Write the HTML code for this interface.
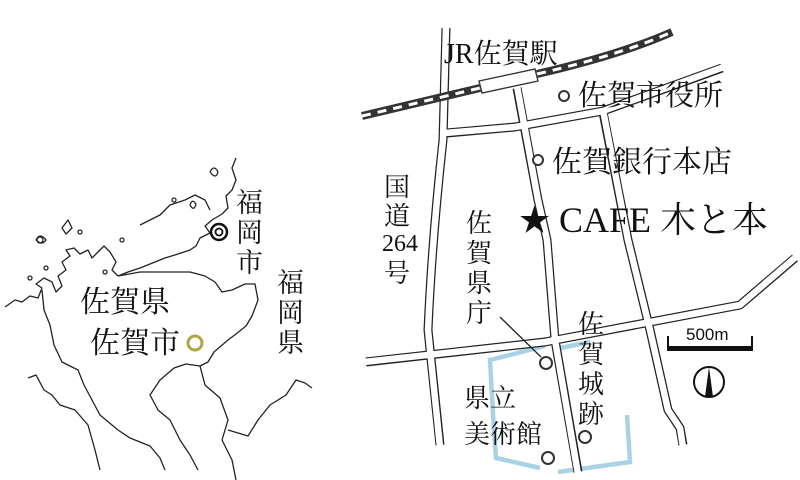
<!DOCTYPE html>
<html><head><meta charset="utf-8"><style>
html,body{margin:0;padding:0;background:#fff;}
svg{display:block;}
text{font-family:"Liberation Serif","Noto Serif CJK SC","Noto Sans CJK JP",serif;fill:#111;}
.s{font-family:"Liberation Sans","Noto Sans CJK JP",sans-serif;}
</style></head><body>
<svg width="800" height="480" viewBox="0 0 800 480" xmlns="http://www.w3.org/2000/svg">
<rect width="800" height="480" fill="#fff"/>
<!-- LEFT MAP -->
<g fill="none" stroke="#222" stroke-width="1.3" stroke-linejoin="round">
<path d="M5,307 L15,300 L22,302 L30,296 L38,298 L42,288 L36,284 L44,278 L52,282 L56,292 L62,286 L58,276 L66,270 L62,262 L70,256 L66,250 L74,248 L80,254 L88,250 L92,258 L98,252 L104,246 L110,252 L116,262 L112,270 L118,276"/>
<path d="M118,276 L128,272 L140,268 L155,262 L165,258 L178,254 L190,250 L196,246 L200,238 L210,233 L205,226 L212,220 L222,214 L228,208 L226,196 L232,190 L236,180 L232,168 L236,158"/>
<path d="M118,276 L140,272 L165,272 L190,272 L205,276 L215,282 L222,292 L232,290 L245,284 L255,284 L258,300 L252,316 L246,326 L236,334 L228,340 L214,352 L208,362 L200,366 L186,364 L174,368"/>
<path d="M42,290 L44,310 L50,325 L54,345 L62,362 L78,370 L84,385 L92,400 L100,415 L118,430 L130,438 L150,446 L160,458 L165,470"/>
<path d="M174,368 L160,380 L150,395 L158,410 L170,420 L180,440 L190,455 L198,470"/>
<path d="M200,366 L205,385 L220,398 L228,420 L222,440 L232,460 L236,480"/>
<path d="M228,430 L248,436 L258,420 L270,405 L286,395 L296,380 L305,383 L312,388"/>
<path d="M28,378 L36,375 L44,390 L52,395 L60,405 L75,410 L88,425 L95,450 L100,470"/>
<path d="M140,225 L160,215 L170,205 L185,200 L195,195 L205,200 L210,210"/>
<circle cx="40" cy="240" r="3"/><circle cx="80" cy="232" r="2"/><circle cx="122" cy="240" r="2"/>
<path d="M36,240 Q40,232 46,240 Q42,246 36,240"/>
<path d="M62,228 L68,220 L72,228 L66,234 Z"/>
<path d="M190,205 Q192,198 196,204 Q194,212 190,205"/>
<path d="M210,172 Q214,164 218,172 Q216,180 210,172"/>
<circle cx="174" cy="200" r="2"/>
<circle cx="105" cy="272" r="2"/><circle cx="46" cy="268" r="2"/><circle cx="30" cy="278" r="2"/>
</g>
<circle cx="219" cy="232" r="8" fill="none" stroke="#111" stroke-width="2.5"/>
<circle cx="219" cy="232" r="3.5" fill="none" stroke="#111" stroke-width="1.8"/>
<circle cx="195" cy="343" r="7" fill="none" stroke="#b0a445" stroke-width="3"/>
<g font-size="27">
<text x="236" y="212">福</text><text x="236" y="242">岡</text><text x="236" y="272">市</text>
<text x="277" y="292">福</text><text x="277" y="322">岡</text><text x="277" y="352">県</text>
</g>
<text x="80" y="312" font-size="30">佐賀県</text>
<text x="90" y="353" font-size="30">佐賀市</text>

<!-- RIGHT MAP -->
<g fill="none" stroke="#a9d3e5" stroke-width="4.5">
<path d="M545,346 L490,360 L493,414 L496,458 L540,468"/>
<path d="M558,472 L630,462 L627,415"/>
<path d="M560,348 L590,342"/>
</g>
<g fill="none" stroke-linejoin="round" stroke-linecap="butt">
<g stroke="#222" stroke-width="9">
<path d="M446,28 L443,140 Q432,240 428,330 L440,445"/>
<path d="M517,88 L538,200 L547,240 L555,340 L578,472"/>
<path d="M603,112 L628,240 L650,330 L668,410 L680,428 L683,445"/>
<path d="M447,133 L515,127 L603,111 L722,68"/>
<path d="M366,362 L545,342 L740,305 L795,258"/>
</g>
<g stroke="#fff" stroke-width="6.5">
<path d="M446,26 L443,140 Q432,240 428,330 L440,447"/>
<path d="M517,86 L538,200 L547,240 L555,340 L578,474"/>
<path d="M603,110 L628,240 L650,330 L668,410 L680,428 L683,447"/>
<path d="M445,133 L515,127 L603,111 L724,67"/>
<path d="M364,362 L545,342 L740,305 L797,256"/>
</g>
</g>
<path d="M362,116 L480,88 M537,74 Q620,55 672,32" stroke="#333" stroke-width="8" fill="none"/>
<path d="M362,116 L480,88 M537,74 Q620,55 672,32" stroke="#fff" stroke-width="3" stroke-dasharray="9 7" fill="none"/>
<path d="M479,81 L535,69 L538,81 L482,93 Z" fill="#fff" stroke="#333" stroke-width="1.4"/>
<g fill="#fff" stroke="#333" stroke-width="2">
<circle cx="564" cy="96" r="5"/>
<circle cx="538" cy="160" r="5"/>
<circle cx="546" cy="363" r="6"/>
<circle cx="585" cy="437" r="6"/>
<circle cx="548" cy="458" r="6"/>
</g>
<line x1="500" y1="317" x2="541" y2="357" stroke="#222" stroke-width="1.3"/>
<text x="444" y="63" font-size="28">JR佐賀駅</text>
<text x="578" y="105" font-size="29">佐賀市役所</text>
<text x="552" y="172" font-size="30">佐賀銀行本店</text>
<text x="519" y="231" font-size="31">★</text>
<text x="559" y="232" font-size="36">CAFE 木と本</text>
<g font-size="26">
<text x="384" y="196">国</text><text x="384" y="225">道</text>
<text x="382" y="251" font-size="24">264</text><text x="384" y="282">号</text>
<text x="466" y="232">佐</text><text x="466" y="262">賀</text><text x="466" y="292">県</text><text x="466" y="322">庁</text>
<text x="578" y="333">佐</text><text x="578" y="363">賀</text><text x="578" y="393">城</text><text x="578" y="423">跡</text>
<text x="464" y="407">県立</text>
<text x="464" y="443">美術館</text>
</g>
<text class="s" x="686" y="340" font-size="17">500m</text>
<path d="M668,336 L668,350 L752,350 L752,336" fill="none" stroke="#111" stroke-width="2"/>
<rect x="668" y="346" width="84" height="5" fill="#111"/>
<circle cx="709" cy="382" r="15" fill="none" stroke="#111" stroke-width="2"/>
<path d="M709,367 L713,397 L705,397 Z" fill="#111"/>
</svg>
</body></html>
